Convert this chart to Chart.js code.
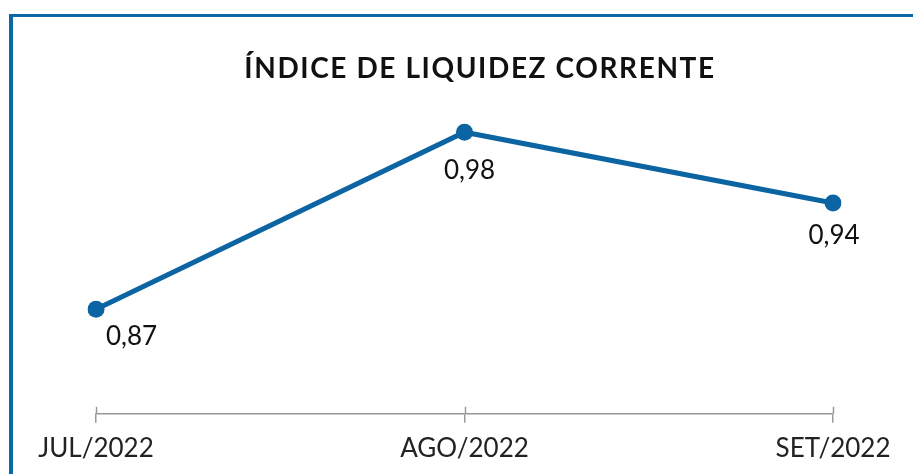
<!DOCTYPE html>
<html>
<head>
<meta charset="utf-8">
<script src="https://cdn.jsdelivr.net/npm/chart.js@4/dist/chart.umd.min.js"></script>
<style>
    body { margin: 0; background: #fff; }
    #wrap { position: relative; width: 913px; height: 474px; overflow: hidden; }
    #frame {
        position: absolute; left: 9px; top: 14px; right: 0; bottom: 0;
        border-top: 3px solid #0b68a6; border-left: 4px solid #0b68a6;
        pointer-events: none;
    }
</style>
</head>
<body>
<div id="wrap">
    <canvas id="chart" width="913" height="474"></canvas>
    <div id="frame"></div>
</div>
<script>
// dados do gráfico
const meses = ['JUL/2022', 'AGO/2022', 'SET/2022'];
const liquidez = [0.87, 0.98, 0.936];
const titulo = 'ÍNDICE DE LIQUIDEZ CORRENTE';

const azul = '#0c64a2';

const ctx = document.getElementById('chart').getContext('2d');

const tituloPlugin = {
    id: 'tituloPlugin',
    afterDraw(chart) {
        const c = chart.ctx;
        c.save();
        c.font = 'bold 28px Lato';
        c.letterSpacing = '1.6px';
        c.fillStyle = '#111';
        c.textAlign = 'center';
        c.textBaseline = 'middle';
        c.fillText(titulo, 480, 69);
        c.restore();
    }
};

// rótulos de valor abaixo dos pontos + traços do eixo
const rotulosPlugin = {
    id: 'rotulosPlugin',
    afterDatasetsDraw(chart) {
        const c = chart.ctx;
        const pts = chart.getDatasetMeta(0).data;
        const desloc = [[10, 27], [5, 38], [1, 33]];   // ajuste fino de cada rótulo
        c.save();
        c.font = '26px Lato';
        c.fillStyle = '#111';
        c.textBaseline = 'middle';
        pts.forEach((p, i) => {
            const txt = liquidez[i].toFixed(2).replace('.', ',');
            c.textAlign = i === 0 ? 'left' : 'center';
            c.fillText(txt, p.x + desloc[i][0], p.y + desloc[i][1]);
        });
        // parte de cima dos traços
        const xs = chart.scales.x;
        const base = chart.chartArea.bottom;
        c.strokeStyle = '#999';
        c.lineWidth = 1.5;
        meses.forEach((m, i) => {
            const x = Math.round(xs.getPixelForValue(i)) + 0.5;
            c.beginPath();
            c.moveTo(x, base - 7);
            c.lineTo(x, base);
            c.stroke();
        });
        c.restore();
    }
};

new Chart(ctx, {
    type: 'line',
    data: {
        labels: meses,
        datasets: [{
            data: liquidez,
            borderColor: azul,
            backgroundColor: azul,
            borderWidth: 5,
            pointRadius: 8.5,
            pointBorderWidth: 0,
            tension: 0
        }]
    },
    options: {
        responsive: false,
        animation: false,
        layout: {
            padding: { top: 100, left: 96, right: 80, bottom: 0 }
        },
        plugins: {
            legend: { display: false },
            title: { display: false },
            tooltip: { enabled: false }
        },
        scales: {
            x: {
                offset: false,
                grid: {
                    drawOnChartArea: false,
                    drawTicks: true,
                    tickLength: 9,
                    color: '#999',
                    lineWidth: 1.5
                },
                border: { display: true, color: '#999', width: 1.5 },
                ticks: {
                    color: '#222',
                    padding: 10,
                    maxRotation: 0,
                    font: { family: 'Lato', size: 26 }
                }
            },
            y: {
                display: false,
                min: 0.805,
                max: 1.0
            }
        }
    },
    plugins: [tituloPlugin, rotulosPlugin]
});
</script>
</body>
</html>
